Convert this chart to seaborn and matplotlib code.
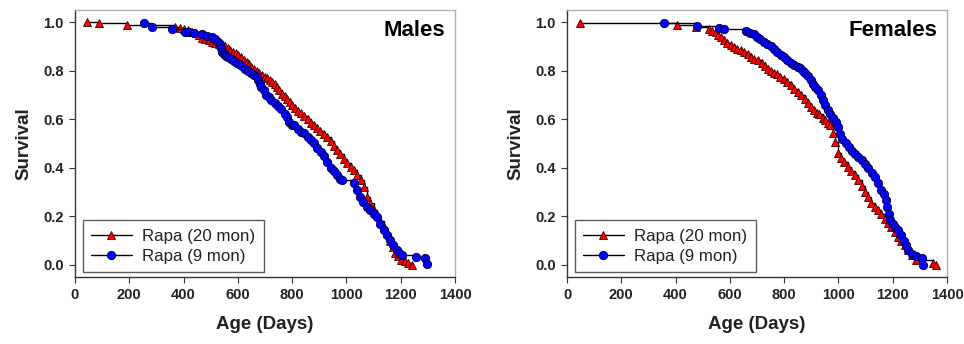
import numpy as np
import pandas as pd
import matplotlib
matplotlib.use("Agg")
import matplotlib.pyplot as plt
from matplotlib.lines import Line2D
import seaborn as sns

# Survival data (age in days, fraction alive)
male_r20_age = [43, 87, 190, 370, 385, 401, 415, 430, 444, 455, 468, 480, 492, 505,
                517, 530, 540, 553, 562, 572, 582, 592, 602, 612, 622, 632, 640, 650,
                660, 669, 678, 688, 699, 708, 717, 726, 735, 744, 752, 762, 772, 782,
                792, 800, 810, 821, 832, 845, 857, 869, 880, 892, 904, 918, 930, 942,
                954, 966, 978, 990, 1003, 1015, 1027, 1040, 1052, 1064, 1076, 1088,
                1100, 1112, 1124, 1137, 1149, 1160, 1170, 1179, 1190, 1202, 1215,
                1228, 1240]
male_r20_surv = [1.0, 0.995, 0.99, 0.98, 0.976, 0.973, 0.968, 0.96, 0.955, 0.945,
                 0.935, 0.93, 0.925, 0.918, 0.915, 0.91, 0.905, 0.90, 0.893, 0.887,
                 0.878, 0.872, 0.866, 0.856, 0.845, 0.835, 0.826, 0.815, 0.808, 0.80,
                 0.792, 0.783, 0.775, 0.768, 0.76, 0.752, 0.745, 0.733, 0.72, 0.705,
                 0.695, 0.684, 0.672, 0.66, 0.648, 0.635, 0.625, 0.615, 0.60, 0.585,
                 0.575, 0.565, 0.552, 0.54, 0.527, 0.51, 0.49, 0.473, 0.455, 0.438,
                 0.42, 0.404, 0.39, 0.37, 0.35, 0.32, 0.28, 0.255, 0.226, 0.205, 0.18,
                 0.155, 0.13, 0.10, 0.075, 0.05, 0.035, 0.022, 0.014, 0.007, 0.0]

male_r9_age = [255, 282, 357, 407, 420, 440, 468, 485, 504, 515, 525, 535, 537, 540,
               548, 557, 565, 575, 585, 595, 605, 615, 625, 638, 650, 660, 669, 675,
               681, 687, 695, 705, 714, 723, 735, 748, 760, 772, 781, 790, 800, 808,
               820, 833, 845, 857, 869, 881, 893, 906, 918, 930, 942, 955, 966, 976,
               985, 1028, 1038, 1050, 1062, 1075, 1087, 1100, 1112, 1125, 1138, 1150,
               1160, 1172, 1185, 1195, 1203, 1258, 1288, 1295]
male_r9_surv = [0.996, 0.98, 0.973, 0.96, 0.958, 0.954, 0.949, 0.944, 0.938, 0.93,
                0.92, 0.911, 0.895, 0.877, 0.868, 0.86, 0.856, 0.848, 0.84, 0.832,
                0.826, 0.818, 0.808, 0.80, 0.79, 0.782, 0.774, 0.76, 0.745, 0.733,
                0.72, 0.70, 0.69, 0.678, 0.665, 0.655, 0.64, 0.623, 0.608, 0.59,
                0.578, 0.575, 0.56, 0.548, 0.542, 0.528, 0.515, 0.50, 0.48, 0.465,
                0.45, 0.425, 0.40, 0.385, 0.37, 0.355, 0.349, 0.337, 0.31, 0.28, 0.26,
                0.24, 0.226, 0.21, 0.197, 0.17, 0.144, 0.125, 0.103, 0.082, 0.062,
                0.05, 0.041, 0.034, 0.027, 0.005]

female_r20_age = [49, 406, 475, 523, 535, 549, 558, 566, 578, 590, 603, 615, 627, 640,
                  652, 665, 677, 690, 705, 717, 728, 739, 750, 761, 772, 786, 800, 812,
                  825, 837, 850, 862, 875, 887, 899, 910, 920, 930, 942, 952, 961, 970,
                  979, 988, 998, 1010, 1022, 1035, 1047, 1060, 1072, 1085, 1097, 1109,
                  1120, 1133, 1146, 1158, 1170, 1183, 1195, 1208, 1220, 1232, 1245,
                  1257, 1270, 1287, 1349, 1358]
female_r20_surv = [0.995, 0.988, 0.98, 0.973, 0.965, 0.959, 0.948, 0.938, 0.925, 0.915,
                   0.905, 0.897, 0.89, 0.884, 0.878, 0.868, 0.856, 0.85, 0.845, 0.832,
                   0.82, 0.808, 0.797, 0.79, 0.785, 0.775, 0.765, 0.752, 0.74, 0.725,
                   0.712, 0.70, 0.685, 0.665, 0.65, 0.637, 0.627, 0.62, 0.605, 0.595,
                   0.585, 0.575, 0.545, 0.505, 0.46, 0.44, 0.425, 0.404, 0.385, 0.37,
                   0.349, 0.325, 0.30, 0.281, 0.255, 0.238, 0.226, 0.21, 0.19, 0.171,
                   0.155, 0.135, 0.116, 0.098, 0.08, 0.062, 0.04, 0.021, 0.007, 0.0]

female_r9_age = [356, 480, 560, 578, 659, 675, 689, 700, 712, 726, 738, 750, 763, 775,
                 788, 800, 812, 825, 838, 850, 860, 869, 878, 888, 897, 906, 915, 925,
                 935, 944, 952, 961, 970, 980, 990, 998, 1006, 1014, 1028, 1040, 1050,
                 1062, 1072, 1085, 1097, 1109, 1122, 1134, 1146, 1156, 1166, 1176,
                 1180, 1185, 1189, 1200, 1210, 1220, 1230, 1240, 1250, 1257, 1270,
                 1285, 1306, 1312]
female_r9_surv = [0.995, 0.986, 0.977, 0.973, 0.963, 0.957, 0.949, 0.94, 0.93, 0.918,
                  0.91, 0.90, 0.89, 0.878, 0.866, 0.856, 0.845, 0.832, 0.822, 0.815,
                  0.81, 0.80, 0.79, 0.78, 0.763, 0.746, 0.733, 0.719, 0.70, 0.678,
                  0.658, 0.637, 0.62, 0.605, 0.59, 0.568, 0.54, 0.52, 0.50, 0.485,
                  0.47, 0.455, 0.445, 0.43, 0.415, 0.397, 0.38, 0.36, 0.336, 0.31,
                  0.29, 0.267, 0.24, 0.21, 0.185, 0.17, 0.155, 0.144, 0.125, 0.10,
                  0.08, 0.062, 0.045, 0.035, 0.027, 0.0]

labels = ["Rapa (20 mon)", "Rapa (9 mon)"]
x_ticks = [0, 200, 400, 600, 800, 1000, 1200, 1400]
y_ticks = [0.0, 0.2, 0.4, 0.6, 0.8, 1.0]

sns.set_style("white")
plt.rcParams["font.family"] = ["Liberation Sans", "DejaVu Sans"]

fig = plt.figure(figsize=(9.64, 3.44), dpi=100)
ax1 = fig.add_axes([0.0778, 0.1948, 0.3942, 0.7762])
ax2 = fig.add_axes([0.5882, 0.1948, 0.3942, 0.7762])

red_style = dict(marker="^", markerfacecolor="#ff0000", markeredgecolor="#3a0000",
                 markersize=6.3, markeredgewidth=0.6)
blue_style = dict(marker="o", markerfacecolor="#0000ff", markeredgecolor="#00003a",
                  markersize=6, markeredgewidth=0.6)


def draw_panel(ax, r20_age, r20_surv, r9_age, r9_surv, title):
    df20 = pd.DataFrame({"age": r20_age, "surv": r20_surv})
    df9 = pd.DataFrame({"age": r9_age, "surv": r9_surv})
    sns.lineplot(data=df20, x="age", y="surv", ax=ax, color="black", lw=1,
                 estimator=None, sort=False, drawstyle="steps-post", **red_style)
    sns.lineplot(data=df9, x="age", y="surv", ax=ax, color="black", lw=1,
                 estimator=None, sort=False, drawstyle="steps-post", **blue_style)

    ax.set_xlim(0, 1400)
    ax.set_ylim(-0.05, 1.05)
    ax.set_xticks(x_ticks)
    ax.set_yticks(y_ticks)
    ax.set_yticklabels([f"{v:.1f}" for v in y_ticks])
    ax.tick_params(axis="both", which="both", direction="out", length=4, width=0.8,
                   labelsize=10.5, pad=4, bottom=True, left=True, color="#333333")
    for lab in ax.get_xticklabels() + ax.get_yticklabels():
        lab.set_fontweight("bold")
        lab.set_color("#222222")

    for side in ["left", "bottom"]:
        ax.spines[side].set_color("#333333")
        ax.spines[side].set_linewidth(1.0)
    for side in ["top", "right"]:
        ax.spines[side].set_color("#b0b0b0")
        ax.spines[side].set_linewidth(1.0)

    ax.set_xlabel("Age (Days)", fontsize=13.5, fontweight="bold", color="#222222",
                  labelpad=10)
    ax.set_ylabel("Survival", fontsize=13.5, fontweight="bold", color="#222222",
                  labelpad=8)
    ax.text(0.975, 0.925, title, transform=ax.transAxes, ha="right", va="center",
            fontsize=16, fontweight="bold", color="black")

    handles = [
        Line2D([], [], color="black", lw=1, **red_style),
        Line2D([], [], color="black", lw=1, **blue_style),
    ]
    leg = ax.legend(handles, labels, loc="lower left", bbox_to_anchor=(0.02, 0.018),
                    fontsize=12.2, frameon=True, fancybox=False, handlelength=2.4,
                    handletextpad=0.6, borderpad=0.5, labelspacing=0.3,
                    borderaxespad=0)
    leg.get_frame().set_edgecolor("#333333")
    leg.get_frame().set_linewidth(1.0)
    for t in leg.get_texts():
        t.set_color("#222222")


draw_panel(ax1, male_r20_age, male_r20_surv, male_r9_age, male_r9_surv, "Males")
draw_panel(ax2, female_r20_age, female_r20_surv, female_r9_age, female_r9_surv, "Females")

fig.savefig("out.png", dpi=100)
